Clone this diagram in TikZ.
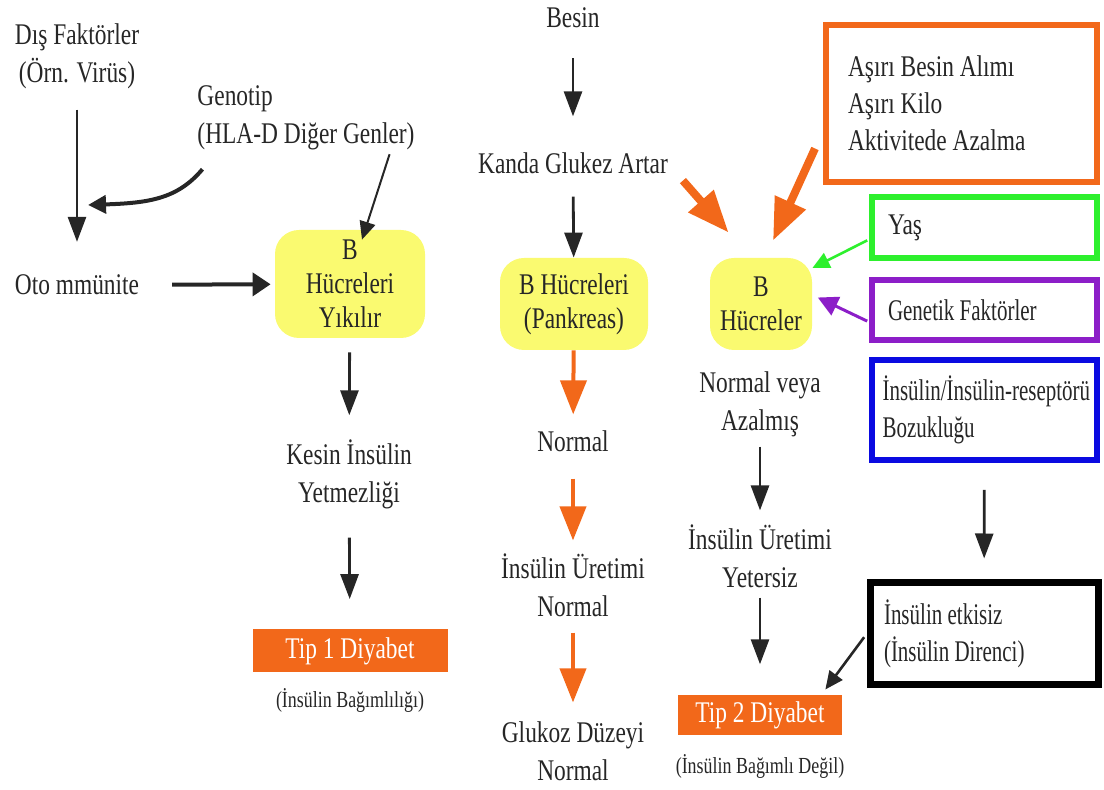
\documentclass[tikz,border=0pt]{standalone}
\usepackage{fontspec}
\setmainfont{Liberation Serif}[FakeStretch=0.78]
\newfontfamily\narrowserif{Liberation Serif}[FakeStretch=0.7]
\usetikzlibrary{arrows.meta,calc}
\hyphenpenalty=10000
\exhyphenpenalty=10000

\definecolor{ink}{RGB}{38,38,38}
\definecolor{orng}{RGB}{242,104,26}
\definecolor{yel}{RGB}{250,250,112}
\definecolor{grn}{RGB}{45,240,45}
\definecolor{purp}{RGB}{140,30,200}
\definecolor{blu}{RGB}{10,10,225}

\tikzset{txt/.style={
                     % plain label
                     text=ink,align=center,font=\fontsize{15}{19}\selectfont},
         cellbox/.style={
                     % yellow cell boxes
                     txt,fill=yel,rounded corners=12pt,
                     font=\fontsize{15}{17}\selectfont},
         diab/.style={fill=orng,text=white,font=\fontsize{15}{18}\selectfont},
         smallnote/.style={text=ink,font=\fontsize{11.5}{14}\selectfont},
         factor/.style={
                     % framed factor boxes
                     draw=#1,line width=3pt,text=ink,align=flush left,
                     font=\fontsize{15}{18.5}\selectfont,
                     minimum width=112.5pt,minimum height=30.5pt,
                     text width=96.5pt,inner xsep=8pt},
         narrow/.style={font=\narrowserif\fontsize{15}{18.5}\selectfont},
         flow/.style={draw=ink,line width=1.4pt,-{Triangle[length=12.5pt,width=9pt]}},
         oflow/.style={draw=orng,line width=2pt,-{Triangle[length=17pt,width=13pt]}},
         bigflow/.style={draw=orng,line width=4pt,-{Triangle[length=21pt,width=16pt]}},
         thinflow/.style={draw=ink,line width=1pt,-{Triangle[length=9pt,width=8pt]}}
        }

\begin{document}
\begin{tikzpicture}[x=0.5pt,y=-0.5pt]
  \useasboundingbox (0,0) rectangle (1104,790);

  % Left column:
  \node (dis) [txt] at (77,56) {Dış Faktörler\\(Örn. Virüs)};
  \node (gen) [txt,align=left] at (306,118) {Genotip\\(HLA-D Diğer Genler)};
  \coordinate (meet) at (88,205);
  \node (oto) [txt] at (77,285) {Oto mmünite};
  \node (yk1) [cellbox,minimum width=75pt,minimum height=54pt] at (350,284) {B\\Hücreleri\\Yıkılır};
  \node (kesin) [txt] at (349,474) {Kesin İnsülin\\Yetmezliği};
  \node (tip1) [diab,minimum width=97.5pt,minimum height=21.5pt] at (350,651) {Tip 1 Diyabet};
  \node (bag1) [smallnote] at (350,700) {(İnsülin Bağımlılığı)};

  % Middle column:
  \node (besin) [txt] at (573,18) {Besin};
  \node (kanda) [txt] at (573,163) {Kanda Glukez Artar};
  \node (bh2) [cellbox,minimum width=74pt,minimum height=46pt] at (574,304) {B Hücreleri\\(Pankreas)};
  \node (norm) [txt] at (573,441) {Normal};
  \node (uret1) [txt] at (573,585) {İnsülin Üretimi\\Normal};
  \node (gluk) [txt] at (573,751) {Glukoz Düzeyi\\Normal};

  % Right column:
  \node (bh3) [cellbox,minimum width=51pt,minimum height=46pt] at (761,304) {B\\Hücreler};
  \node (normv) [txt] at (760,404) {Normal veya\\Azalmış};
  \node (uret2) [txt] at (760,556) {İnsülin Üretimi\\Yetersiz};
  \node (tip2) [diab,minimum width=82pt,minimum height=20pt] at (760,715) {Tip 2 Diyabet};
  \node (bag2) [smallnote] at (760,766) {(İnsülin Bağımlı Değil)};

  % Factor boxes:
  \node (asiri) [factor=orng,minimum width=135.5pt,minimum height=78.5pt,text width=113.5pt,inner xsep=11pt]
        at (961.5,103.5) {Aşırı Besin Alımı\\Aşırı Kilo\\Aktivitede Azalma};
  \node (yas) [factor=grn] at (984.5,227.5) {Yaş};
  \node (genf) [factor=purp,narrow,minimum height=30pt] at (984.5,310) {Genetik Faktörler};
  \node (bozuk) [factor=blu,narrow,minimum height=50pt,text width=102pt,inner xsep=5pt]
        at (984.5,410) {İnsülin/İnsülin-reseptörü\\Bozukluğu};
  \node (direnc) [factor=black,narrow,line width=3.5pt,minimum width=114pt,minimum height=51pt,text width=100pt,inner xsep=7pt]
        at (984,634) {İnsülin etkisiz\\(İnsülin Direnci)};

  % Connectors, left:
  \draw [flow,shorten <=7pt,shorten >=13pt] (dis) -- (oto);
  \draw [flow,line width=2pt,-{Triangle[length=9pt,width=9pt]}]
        ($(gen.south west)+(12,12)$) .. controls +(-25,30) and +(60,-2) .. (meet);
  \draw [thinflow] ($(gen.south east)+(-32,-3)$) -- ($(yk1.north)+(12,10)$);
  \draw [flow,line width=2pt,-{Triangle[length=9pt,width=11.5pt]},shorten <=13pt,shorten >=2pt] (oto) -- (yk1);
  \draw [flow,shorten <=7pt,shorten >=8.5pt] (yk1) -- (kesin);
  \draw [flow,shorten <=11pt,shorten >=15pt] (kesin) -- (tip1);

  % Connectors, middle:
  \draw [flow,shorten <=11.5pt,shorten >=14.5pt] (besin) -- (kanda);
  \draw [flow,shorten <=8pt] (kanda) -- (bh2);
  \draw [oflow,shorten >=4.5pt] (bh2) -- (norm);
  \draw [oflow,shorten <=10pt,shorten >=3pt] (norm) -- (uret1);
  \draw [oflow,shorten <=4.5pt,shorten >=6pt] (uret1) -- (gluk);

  % Connectors, right:
  \draw [bigflow] ($(kanda.south east)+(8,0)$) -- ($(bh3.north west)+(19,-25)$);
  \draw [bigflow] ($(asiri.west)+(-8,45)$) -- ($(bh3.north)+(12,-17)$);
  \draw [draw=grn,line width=1.3pt,-{Triangle[length=8.5pt,width=8pt]},shorten <=1pt]
        ($(yas.west)+(0,12)$) -- (bh3.35);
  \draw [draw=purp,line width=1.5pt,-{Triangle[length=10pt,width=10pt]},shorten <=1pt,shorten >=3pt]
        ($(genf.west)+(0,12)$) -- (bh3.10);
  \draw [flow,shorten <=1.5pt,shorten >=3.5pt] (normv) -- (uret2);
  \draw [flow,shorten <=1.5pt,shorten >=15pt] (uret2) -- (tip2);
  \draw [flow,shorten <=13.5pt,shorten >=10.5pt] (bozuk) -- (direnc);
  \draw [thinflow,line width=1.3pt,shorten <=2pt,shorten >=3pt] (direnc.west) -- ($(tip2.north east)!0.25!(tip2.north)$);
\end{tikzpicture}
\end{document}
